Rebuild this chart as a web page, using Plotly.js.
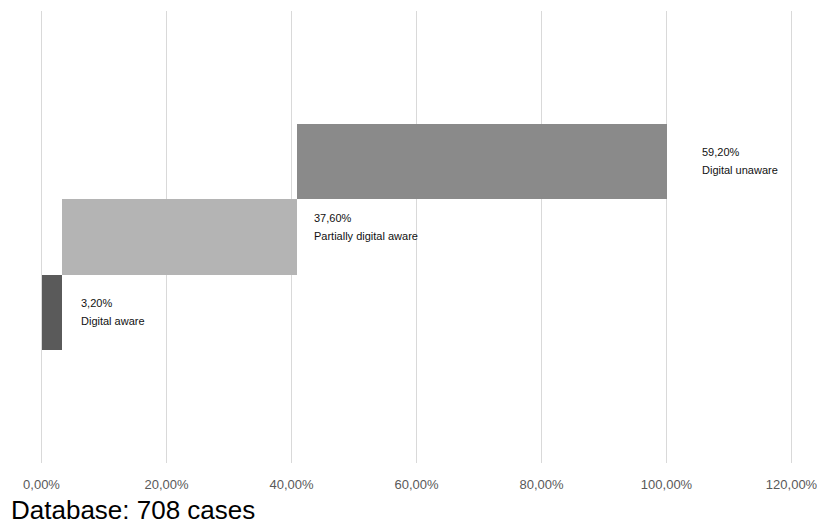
<!DOCTYPE html>
<html>
<head>
<meta charset="utf-8">
<script src="https://cdn.plot.ly/plotly-3.0.1.min.js"></script>
<style>html,body{margin:0;padding:0;background:#fff;}#chart{width:817px;height:527px;}</style>
</head>
<body>
<div id="chart"></div>
<script>
// Data
var categories = ["Digital aware", "Partially digital aware", "Digital unaware"];
var values = [3.2, 37.6, 59.2];
var barColors = ["#5a5a5a", "#b4b4b4", "#8a8a8a"];
var xTickVals = [0, 20, 40, 60, 80, 100, 120];
var footnote = "Database: 708 cases";

// Cumulative bases (waterfall)
var bases = [];
var acc = 0;
for (var i = 0; i < values.length; i++) { bases.push(acc); acc += values[i]; }

function fmtPct(v) { return v.toFixed(2).replace('.', ',') + '%'; }
var xTickText = xTickVals.map(fmtPct);

var trace = {
  type: 'bar',
  orientation: 'h',
  y: categories,
  x: values,
  base: bases,
  width: 1,
  marker: {color: barColors, line: {width: 0}},
  hoverinfo: 'skip'
};

// label styling offsets (pixels)
var labelXShift = [17, 15, 33];
var labelYShift = [0, 10, 1];
var annotations = [];
for (var j = 0; j < categories.length; j++) {
  var endX = bases[j] + values[j];
  annotations.push({
    x: endX, y: categories[j], xref: 'x', yref: 'y',
    text: fmtPct(values[j]), showarrow: false,
    xanchor: 'left', yanchor: 'middle',
    xshift: labelXShift[j], yshift: labelYShift[j] + 9,
    font: {family: 'Liberation Sans, Arial, sans-serif', size: 11, color: '#111111'}
  });
  annotations.push({
    x: endX, y: categories[j], xref: 'x', yref: 'y',
    text: categories[j], showarrow: false,
    xanchor: 'left', yanchor: 'middle',
    xshift: labelXShift[j], yshift: labelYShift[j] - 9,
    font: {family: 'Liberation Sans, Arial, sans-serif', size: 11, color: '#111111'}
  });
}
annotations.push({
  xref: 'paper', yref: 'paper', x: -30/755, y: -47/452,
  xanchor: 'left', yanchor: 'middle', showarrow: false,
  text: footnote,
  font: {family: 'Liberation Sans, Arial, sans-serif', size: 26, color: '#000000'}
});

var layout = {
  width: 817, height: 527,
  margin: {l: 39, r: 23, t: 11, b: 64, pad: 0},
  paper_bgcolor: '#ffffff', plot_bgcolor: '#ffffff',
  showlegend: false,
  bargap: 0,
  xaxis: {
    range: [-0.4, 120.4], tickmode: 'array', tickvals: xTickVals, ticktext: xTickText,
    showgrid: true, gridcolor: '#d9d9d9', gridwidth: 1.5,
    zeroline: false, showline: false, ticks: 'outside', ticklen: 9, tickcolor: 'rgba(0,0,0,0)',
    ticklabeloverflow: 'allow',
    tickfont: {family: 'Liberation Sans, Arial, sans-serif', size: 13, color: '#595959'},
    fixedrange: true
  },
  yaxis: {
    type: 'category', categoryorder: 'array', categoryarray: categories,
    range: [-2, 4], showgrid: false, zeroline: false, showline: false,
    showticklabels: false, ticks: '', fixedrange: true
  },
  annotations: annotations
};

Plotly.newPlot('chart', [trace], layout, {displayModeBar: false, staticPlot: true});
</script>
</body>
</html>
